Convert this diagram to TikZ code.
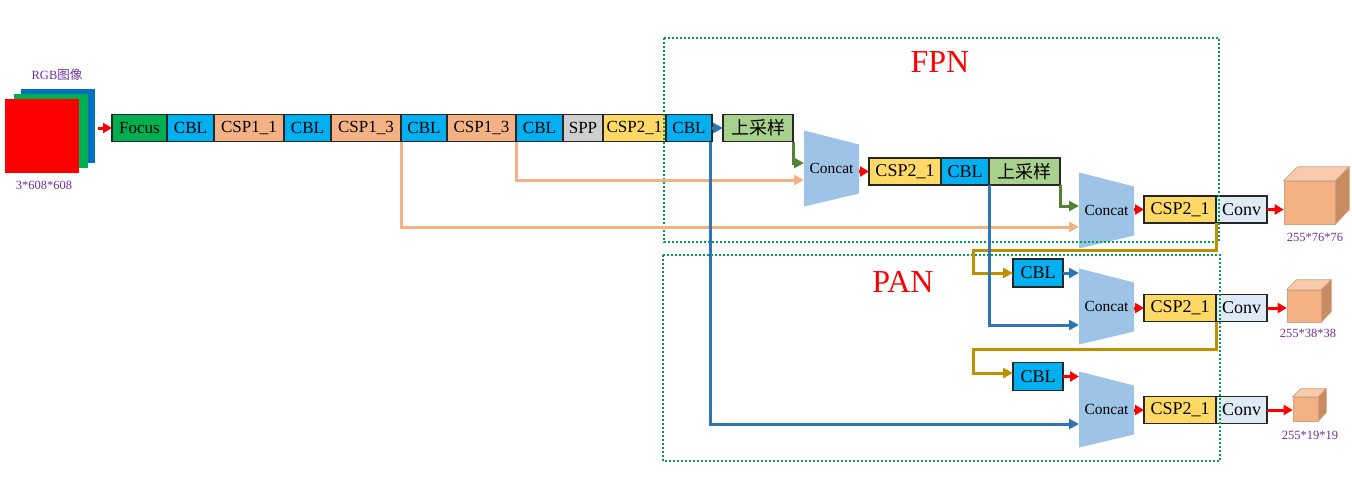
\documentclass[tikz,border=0pt]{standalone}
\usepackage{fontspec}
\setmainfont{Liberation Serif}
\newfontfamily\cjk{Noto Sans CJK SC}
\usetikzlibrary{positioning,calc,arrows.meta}

\definecolor{focusgreen}{HTML}{00B050}
\definecolor{cblblue}{HTML}{00B0F0}
\definecolor{csporange}{HTML}{F4B183}
\definecolor{sppgray}{HTML}{D0CECE}
\definecolor{cspyellow}{HTML}{FFD966}
\definecolor{upgreen}{HTML}{A9D18E}
\definecolor{convblue}{HTML}{DEEBF7}
\definecolor{catblue}{HTML}{9DC3E6}
\definecolor{linkorange}{HTML}{F4B183}
\definecolor{linkblue}{HTML}{2E75B6}
\definecolor{linkgreen}{HTML}{548235}
\definecolor{linkgold}{HTML}{BF9000}
\definecolor{dotgreen}{HTML}{00A050}
\definecolor{labelpurple}{HTML}{7030A0}
\definecolor{rgbblue}{HTML}{0070C0}
\definecolor{cubetop}{HTML}{F8CBAD}
\definecolor{cubeside}{HTML}{C98B62}

\tikzset{
  block/.style={draw=black!85, line width=1.3pt, outer sep=0pt, inner sep=0pt,
    minimum height=27pt, font=\fontsize{18}{20}\selectfont},
  mainblock/.style={block, font=\fontsize{17}{20}\selectfont},
  concat/.style={minimum width=55pt, minimum height=76pt, inner sep=0pt, outer sep=0pt,
    font=\fontsize{15.5}{18}\selectfont,
    path picture={\fill[catblue] (path picture bounding box.north west)
      -- ([yshift=-14pt]path picture bounding box.north east)
      -- ([yshift=13pt]path picture bounding box.south east)
      -- (path picture bounding box.south west) -- cycle;}},
  square/.style={minimum width=74pt, minimum height=74pt, inner sep=0pt},
  cubefront/.style={fill=csporange, draw=cubeside!80, line width=0.6pt, inner sep=0pt},
  dimlabel/.style={text=labelpurple, font=\fontsize{12.5}{14}\selectfont},
  conn/.style={line width=3pt, -{Triangle[length=10pt,width=10pt]}},
  redconn/.style={conn, draw=red, -{Triangle[length=9pt,width=10pt]}},
  dotbox/.style={draw=dotgreen, line width=2pt, dash pattern=on 2pt off 2pt},
  netname/.style={text=red, font=\fontsize{32}{36}\selectfont}
}

\begin{document}
\begin{tikzpicture}[x=1pt,y=-1pt]
\useasboundingbox (0,0) rectangle (1352,493);

% input image
\node[square, fill=rgbblue] (blue) at (58,125.5) {};
\node[square, fill=focusgreen] (green) at (51,131) {};
\node[square, fill=red] (red) at (41.5,136) {};
\node[dimlabel] (rgblabel) at (57,75) {RGB{\cjk 图像}};
\node[dimlabel] (inlabel) at (44,185) {3*608*608};

% backbone
\node[mainblock, fill=focusgreen, minimum width=55pt, anchor=west] (focus) at (112,128) {Focus};
\node[mainblock, fill=cblblue, minimum width=47pt, right=0pt of focus] (cbl1) {CBL};
\node[mainblock, fill=csporange, minimum width=70pt, right=0pt of cbl1] (csp11) {CSP1\_1};
\node[mainblock, fill=cblblue, minimum width=47pt, right=0pt of csp11] (cbl2) {CBL};
\node[mainblock, fill=csporange, minimum width=70pt, right=0pt of cbl2] (csp13a) {CSP1\_3};
\node[mainblock, fill=cblblue, minimum width=46pt, right=0pt of csp13a] (cbl3) {CBL};
\node[mainblock, fill=csporange, minimum width=69pt, right=0pt of cbl3] (csp13b) {CSP1\_3};
\node[mainblock, fill=cblblue, minimum width=47pt, right=0pt of csp13b] (cbl4) {CBL};
\node[mainblock, fill=sppgray, minimum width=40pt, right=0pt of cbl4] (spp) {SPP};
\node[mainblock, fill=cspyellow, minimum width=63pt, right=0pt of spp] (csp21) {CSP2\_1};
\node[mainblock, fill=cblblue, minimum width=46pt, right=0pt of csp21] (cbl5) {CBL};
\node[block, fill=upgreen, minimum width=70pt, anchor=west] (up1) at (723,128) {\cjk 上采样};

% neck
\node[concat] (cat1) at (831.5,168.5) {Concat};
\node[block, fill=cspyellow, minimum width=72pt, anchor=west] (csp2) at (869,171.5) {CSP2\_1};
\node[block, fill=cblblue, minimum width=48pt, right=0pt of csp2] (cbl6) {CBL};
\node[block, fill=upgreen, minimum width=71pt, right=0pt of cbl6] (up2) {\cjk 上采样};

\node[concat] (cat2) at (1106.5,210.5) {Concat};
\node[block, fill=cspyellow, minimum width=72pt, anchor=west] (csp3) at (1144,209.5) {CSP2\_1};
\node[block, fill=convblue, minimum width=51pt, right=0pt of csp3] (conv1) {Conv};

\node[block, fill=cblblue, minimum width=50pt, minimum height=28pt] (pcbl1) at (1038,273) {CBL};
\node[concat] (cat3) at (1106.5,306.5) {Concat};
\node[block, fill=cspyellow, minimum width=72pt, anchor=west] (csp4) at (1144,308) {CSP2\_1};
\node[block, fill=convblue, minimum width=51pt, right=0pt of csp4] (conv2) {Conv};

\node[block, fill=cblblue, minimum width=50pt, minimum height=28pt] (pcbl2) at (1038,376.5) {CBL};
\node[concat] (cat4) at (1106.5,409.5) {Concat};
\node[block, fill=cspyellow, minimum width=72pt, anchor=west] (csp5) at (1144,410) {CSP2\_1};
\node[block, fill=convblue, minimum width=51pt, right=0pt of csp5] (conv3) {Conv};

% outputs
\foreach \n/\cx/\cy/\w/\h/\d in {out1/1309.5/202.5/51/43/14, out2/1304/306/34/32/10, out3/1305.5/409/25/24/8}{
  \node[cubefront, minimum width=\w pt, minimum height=\h pt] (\n) at (\cx,\cy) {};
  \filldraw[fill=cubetop, draw=cubeside!80, line width=0.6pt] (\n.north west) -- ++(\d,-\d) -- ++(\w,0) -- (\n.north east) -- cycle;
  \filldraw[fill=cubeside, draw=cubeside!80, line width=0.6pt] (\n.north east) -- ++(\d,-\d) -- ++(0,\h) -- (\n.south east) -- cycle;
}
\node[dimlabel] (lab1) at (1315,237) {255*76*76};
\node[dimlabel] (lab2) at (1308,333) {255*38*38};
\node[dimlabel] (lab3) at (1310,435) {255*19*19};

% FPN / PAN frames
\draw[dotbox] (664,38) rectangle (1219,242);
\draw[dotbox] (663,255) rectangle (1220,461);
\node[netname] (fpn) at (940,62) {FPN};
\node[netname] (pan) at (903,282) {PAN};

% connectors
\draw[redconn] ([xshift=3pt]blue.east |- focus.west) -- (focus.west);
\draw[conn, draw=linkblue] (cbl5.east) -- (up1.west);
\draw[conn, draw=linkgreen] (up1.south east) |- ($(cat1.west)+(0,-5.5)$);
\draw[conn, draw=linkorange] (cbl4.south west) |- ($(cat1.west)+(0,11.5)$);
\draw[redconn] (cat1.east |- csp2.west) -- (csp2.west);
\draw[conn, draw=linkgreen] (up2.south east) |- ($(cat2.west)+(0,-4.5)$);
\draw[conn, draw=linkorange] (cbl3.south west) |- ($(cat2.west)+(0,16.5)$);
\draw[redconn] (cat2.east |- csp3.west) -- (csp3.west);
\draw[redconn] (conv1.east) -- (conv1.east -| out1.west);

\draw[conn, draw=linkgold] (csp3.south east) -- ++(0,27) -| ($(pcbl1.west)+(-40,0)$) -- (pcbl1.west);
\draw[conn, draw=linkblue] (pcbl1.east) -- (pcbl1.east -| cat3.west);
\draw[conn, draw=linkblue] (cbl6.south east) |- ($(cat3.west)+(0,18.5)$);
\draw[redconn] (cat3.east |- csp4.west) -- (csp4.west);
\draw[redconn] (conv2.east) -- (conv2.east -| out2.west);

\draw[conn, draw=linkgold] (csp4.south east) -- ++(0,28) -| ($(pcbl2.west)+(-40,-3.5)$) -- ($(pcbl2.west)+(0,-3.5)$);
\draw[redconn] (pcbl2.east) -- (pcbl2.east -| cat4.west);
\draw[conn, draw=linkblue] ($(cbl5.south east)+(-2,0)$) |- ($(cat4.west)+(0,14.5)$);
\draw[redconn] (cat4.east |- csp5.west) -- (csp5.west);
\draw[redconn] (conv3.east) -- (conv3.east -| out3.west);
\end{tikzpicture}
\end{document}
